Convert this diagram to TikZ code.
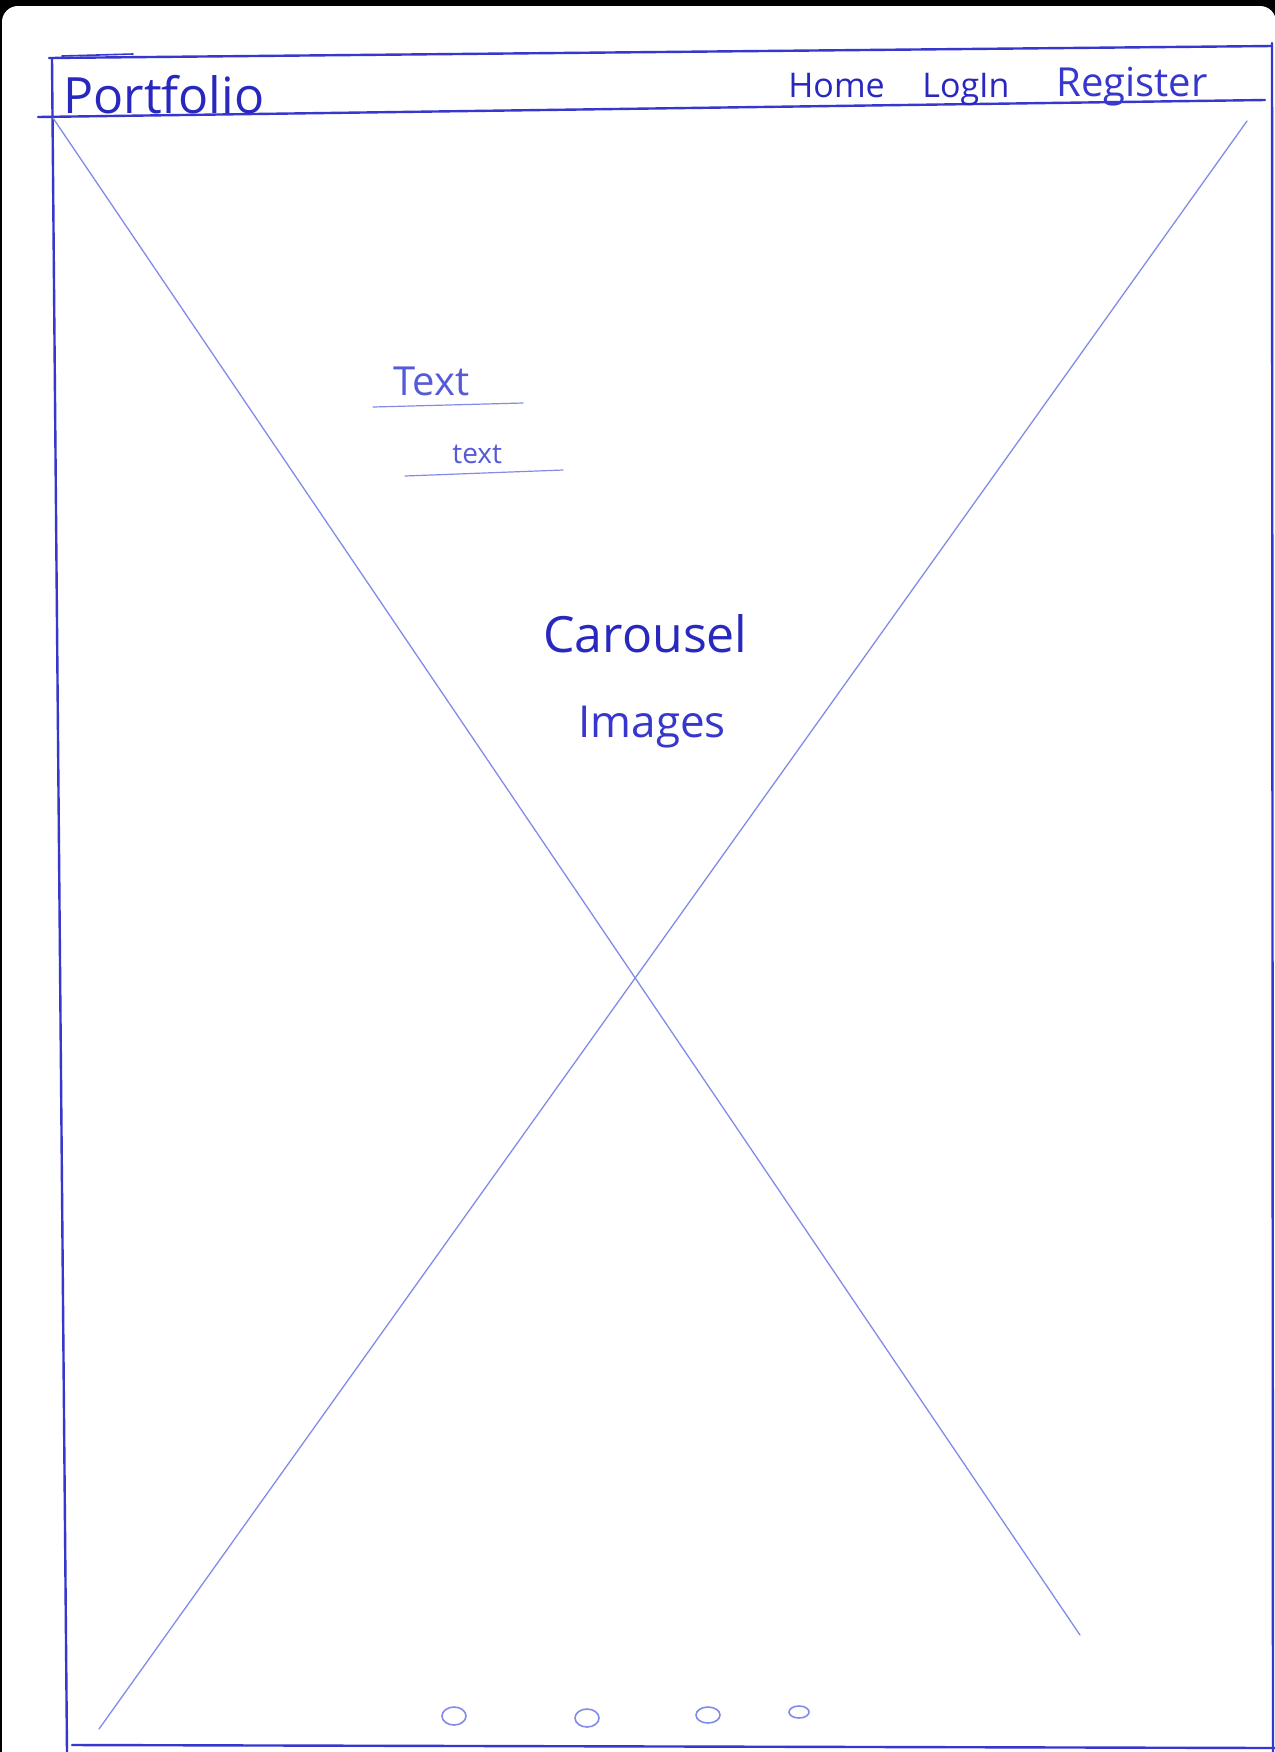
\documentclass[tikz,border=0pt]{standalone}
\usepackage{fontspec}
\usepackage{graphicx}
\setmainfont{Open Sans}
\definecolor{ink}{RGB}{55,55,205}
\definecolor{inkdark}{RGB}{40,40,190}
\definecolor{inklight}{RGB}{130,140,232}
\definecolor{inktext}{RGB}{85,90,215}
\begin{document}
\begin{tikzpicture}[x=0.5pt,y=-0.5pt,
  frame/.style={draw=ink,line width=1.2pt,line cap=round},
  diag/.style={draw=inklight,line width=0.65pt,line cap=round},
  uline/.style={draw=inklight,line width=0.6pt,line cap=round},
  word/.style={inner sep=0pt,anchor=base west},
  dotmark/.style={draw=inklight,line width=0.8pt}]
\useasboundingbox (0,0) rectangle (1275,1752);
% scanned sheet
\fill[black] (0,0) rectangle (1275,1752);
\fill[white,rounded corners=8] (2,1790) -- (2,6) -- (1276,6) -- (1276,1790) -- cycle;
% frame corners
\coordinate (tl) at (49,58);
\coordinate (tr) at (1272,46);
\coordinate (hl) at (38,117);
\coordinate (hr) at (1265,100);
\coordinate (lt) at (52,58);
\coordinate (lb) at (67,1752);
\coordinate (rt) at (1272,43);
\coordinate (rb) at (1273,1752);
\coordinate (bl) at (72,1745);
\coordinate (br) at (1275,1748);
\coordinate (s1) at (62,56);
\coordinate (s2) at (133,54);
\draw[frame] (tl) -- (tr);
\draw[frame,line width=0.8pt] (s1) -- (s2);
\draw[frame] (hl) -- (hr);
\draw[frame] (lt) -- (lb);
\draw[frame] (rt) -- (rb);
\draw[frame] (bl) -- (br);
% diagonals
\coordinate (d1a) at (53,118);
\coordinate (d1b) at (1080,1635);
\coordinate (d2a) at (1247,121);
\coordinate (d2b) at (99,1729);
\draw[diag] (d1a) -- (d1b);
\draw[diag] (d2a) -- (d2b);
% header texts
\node[word,text=inkdark,font=\fontsize{25}{30}\selectfont] (portfolio) at (63,113) {Portfolio};
\node[word,text=inkdark,font=\fontsize{17}{20}\selectfont] (home) at (788,97) {Home};
\node[word,text=inkdark,font=\fontsize{17}{20}\selectfont] (login) at (922,97) {LogIn};
\node[word,text=ink,font=\fontsize{20}{24}\selectfont] (register) at (1056,96) {Register};
% texts
\node[word,text=inktext,font=\fontsize{20}{24}\selectfont] (textA) at (393,395) {Text};
\coordinate (uA1) at (373,407);
\coordinate (uA2) at (523,403);
\draw[uline] (uA1) -- (uA2);
\node[word,text=inktext,font=\fontsize{14}{17}\selectfont] (textB) at (452,463) {text};
\coordinate (uB1) at (405,476);
\coordinate (uB2) at (563,470);
\draw[uline] (uB1) -- (uB2);
\node[word,text=inkdark,font=\fontsize{25}{30}\selectfont] (carousel) at (543,652) {Carousel};
\node[word,text=ink,font=\fontsize{22}{26}\selectfont] (images) at (578,737) {Images};
% carousel indicators
\draw[dotmark] (454,1716) ellipse [x radius=12, y radius=9];
\draw[dotmark] (587,1718) ellipse [x radius=12, y radius=9];
\draw[dotmark] (708,1715) ellipse [x radius=12, y radius=8];
\draw[dotmark] (799,1712) ellipse [x radius=10, y radius=6];
\end{tikzpicture}
\end{document}
